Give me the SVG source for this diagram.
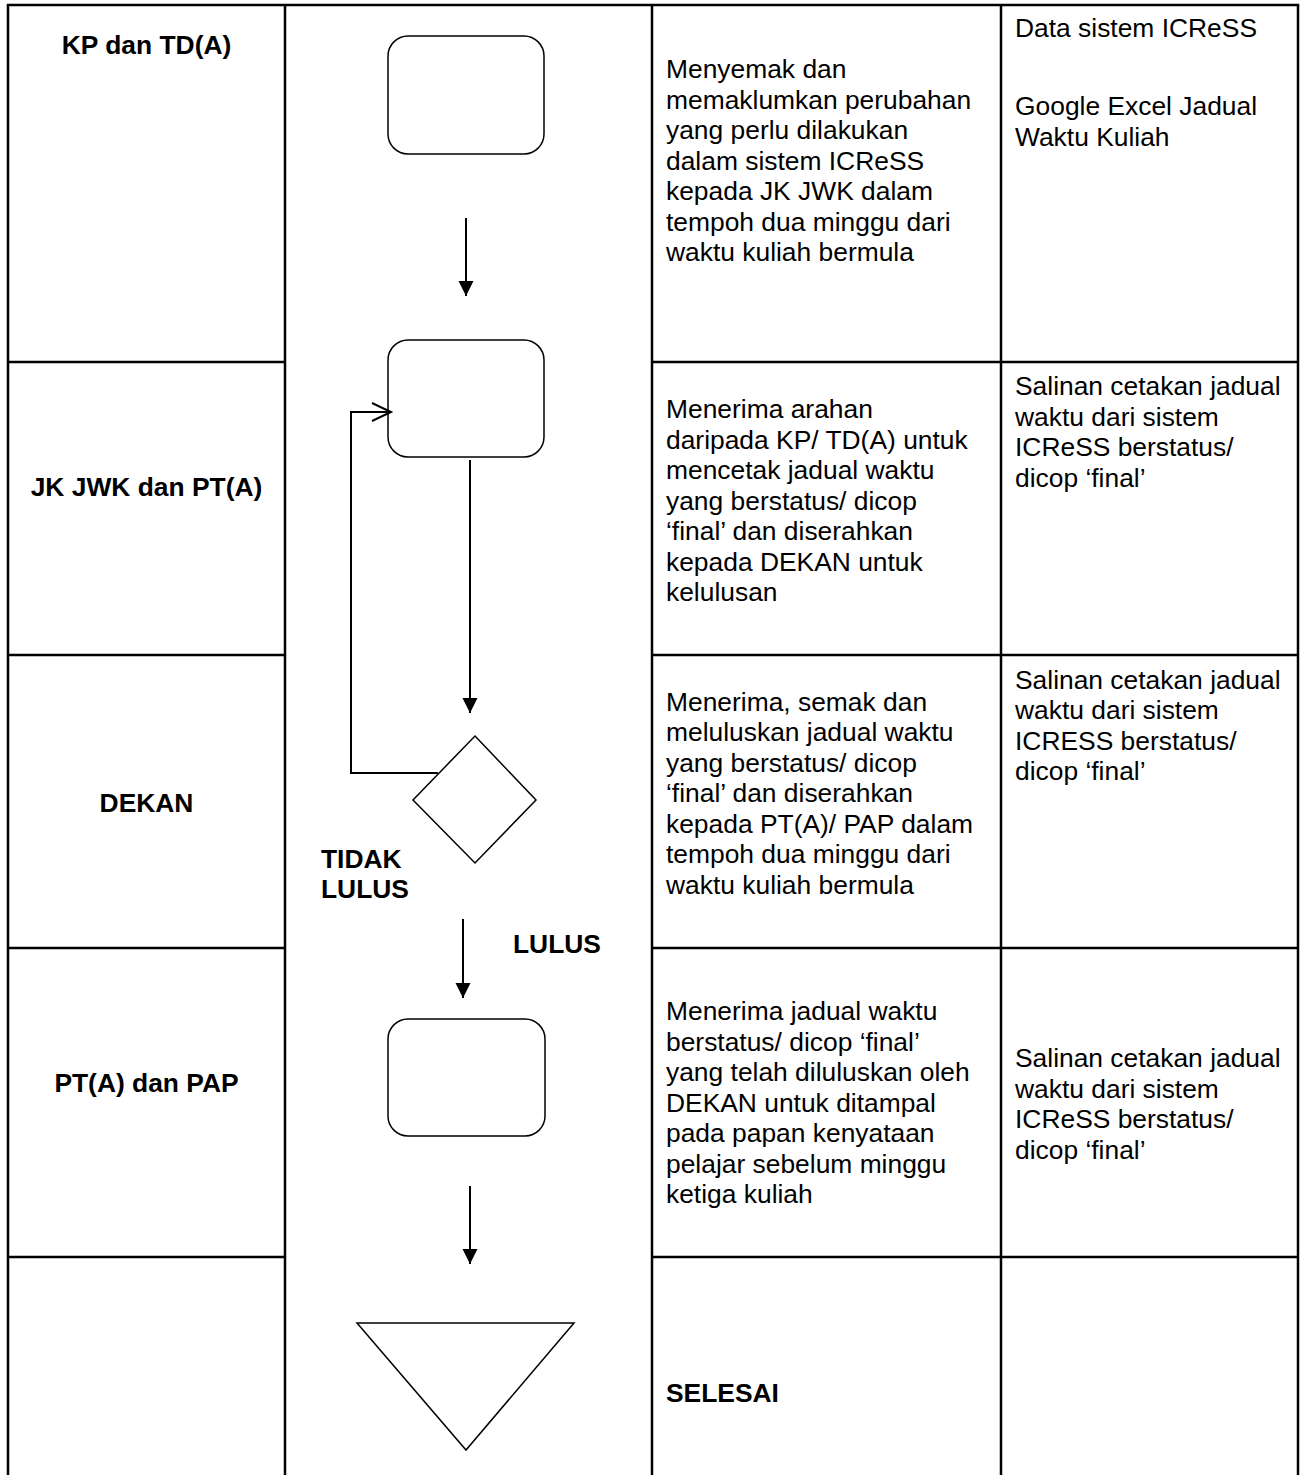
<svg xmlns="http://www.w3.org/2000/svg" width="1302" height="1475" viewBox="0 0 1302 1475">
<style>
.grid{stroke:#000;stroke-width:2.5;fill:none}
.shape{stroke:#000;stroke-width:1.5;fill:#fff}
.conn{stroke:#000;stroke-width:2;fill:none}
.t{font-family:"Liberation Sans",Arial,sans-serif;font-size:26.4px;fill:#000}
.b{font-family:"Liberation Sans",Arial,sans-serif;font-size:26.4px;font-weight:bold;fill:#000}
</style>
<defs>
<marker id="fa" markerUnits="userSpaceOnUse" markerWidth="16" markerHeight="16" refX="15" refY="7.5" orient="auto">
<path d="M0,0 L15,7.5 L0,15 Z" fill="#000"/>
</marker>
<marker id="oa" markerUnits="userSpaceOnUse" markerWidth="24" markerHeight="24" refX="20" refY="10" orient="auto">
<path d="M1,1 L20,10 L1,19" fill="none" stroke="#000" stroke-width="2"/>
</marker>
</defs>
<rect width="1302" height="1475" fill="#fff"/>
<g id="grid" class="grid">
<line x1="6.8" y1="5" x2="1299.2" y2="5"/>
<line x1="8" y1="5" x2="8" y2="1475"/>
<line x1="285" y1="5" x2="285" y2="1475"/>
<line x1="652" y1="5" x2="652" y2="1475"/>
<line x1="1001" y1="5" x2="1001" y2="1475"/>
<line x1="1298" y1="5" x2="1298" y2="1475"/>
<line x1="8" y1="362" x2="285" y2="362"/>
<line x1="8" y1="655" x2="285" y2="655"/>
<line x1="8" y1="948" x2="285" y2="948"/>
<line x1="8" y1="1257" x2="285" y2="1257"/>
<line x1="652" y1="362" x2="1298" y2="362"/>
<line x1="652" y1="655" x2="1298" y2="655"/>
<line x1="652" y1="948" x2="1298" y2="948"/>
<line x1="652" y1="1257" x2="1298" y2="1257"/>
</g>
<g id="roles">
<text class="b" x="146.5" y="54" text-anchor="middle">KP dan TD(A)</text>
<text class="b" x="146.5" y="496" text-anchor="middle">JK JWK dan PT(A)</text>
<text class="b" x="146.5" y="812" text-anchor="middle">DEKAN</text>
<text class="b" x="146.5" y="1092" text-anchor="middle">PT(A) dan PAP</text>
</g>
<g id="node-1"><rect class="shape" x="388" y="36" width="156" height="118" rx="20"/></g>
<g id="node-2"><rect class="shape" x="388" y="340" width="156" height="117" rx="20"/></g>
<g id="node-3"><polygon class="shape" points="475,736 536,800 475,863 413,800"/></g>
<g id="node-4"><rect class="shape" x="388" y="1019" width="157" height="117" rx="20"/></g>
<g id="node-5"><polygon class="shape" points="357,1323 574,1323 466,1450"/></g>
<g id="connectors">
<line class="conn" x1="466" y1="218" x2="466" y2="296" marker-end="url(#fa)"/>
<line class="conn" x1="470" y1="460" x2="470" y2="713" marker-end="url(#fa)"/>
<polyline class="conn" points="438,773 351,773 351,412 391,412" marker-end="url(#oa)"/>
<line class="conn" x1="463" y1="919" x2="463" y2="998" marker-end="url(#fa)"/>
<line class="conn" x1="470" y1="1186" x2="470" y2="1264" marker-end="url(#fa)"/>
</g>
<g id="edge-labels">
<text class="b" x="321" y="868">TIDAK</text>
<text class="b" x="321" y="898">LULUS</text>
<text class="b" x="513" y="953">LULUS</text>
</g>
<g id="activities" class="t">
<text x="666" y="78">Menyemak dan</text>
<text x="666" y="108.5">memaklumkan perubahan</text>
<text x="666" y="139">yang perlu dilakukan</text>
<text x="666" y="169.5">dalam sistem ICReSS</text>
<text x="666" y="200">kepada JK JWK dalam</text>
<text x="666" y="230.5">tempoh dua minggu dari</text>
<text x="666" y="261">waktu kuliah bermula</text>
<text x="666" y="418">Menerima arahan</text>
<text x="666" y="448.5">daripada KP/ TD(A) untuk</text>
<text x="666" y="479">mencetak jadual waktu</text>
<text x="666" y="509.5">yang berstatus/ dicop</text>
<text x="666" y="540">‘final’ dan diserahkan</text>
<text x="666" y="570.5">kepada DEKAN untuk</text>
<text x="666" y="601">kelulusan</text>
<text x="666" y="710.5">Menerima, semak dan</text>
<text x="666" y="741">meluluskan jadual waktu</text>
<text x="666" y="771.5">yang berstatus/ dicop</text>
<text x="666" y="802">‘final’ dan diserahkan</text>
<text x="666" y="832.5">kepada PT(A)/ PAP dalam</text>
<text x="666" y="863">tempoh dua minggu dari</text>
<text x="666" y="893.5">waktu kuliah bermula</text>
<text x="666" y="1020">Menerima jadual waktu</text>
<text x="666" y="1050.5">berstatus/ dicop ‘final’</text>
<text x="666" y="1081">yang telah diluluskan oleh</text>
<text x="666" y="1111.5">DEKAN untuk ditampal</text>
<text x="666" y="1142">pada papan kenyataan</text>
<text x="666" y="1172.5">pelajar sebelum minggu</text>
<text x="666" y="1203">ketiga kuliah</text>
<text class="b" x="666" y="1402">SELESAI</text>
</g>
<g id="records" class="t">
<text x="1015" y="37">Data sistem ICReSS</text>
<text x="1015" y="115">Google Excel Jadual</text>
<text x="1015" y="145.5">Waktu Kuliah</text>
<text x="1015" y="395">Salinan cetakan jadual</text>
<text x="1015" y="425.5">waktu dari sistem</text>
<text x="1015" y="456">ICReSS berstatus/</text>
<text x="1015" y="486.5">dicop ‘final’</text>
<text x="1015" y="688.5">Salinan cetakan jadual</text>
<text x="1015" y="719">waktu dari sistem</text>
<text x="1015" y="749.5">ICRESS berstatus/</text>
<text x="1015" y="780">dicop ‘final’</text>
<text x="1015" y="1067">Salinan cetakan jadual</text>
<text x="1015" y="1097.5">waktu dari sistem</text>
<text x="1015" y="1128">ICReSS berstatus/</text>
<text x="1015" y="1158.5">dicop ‘final’</text>
</g>
</svg>
